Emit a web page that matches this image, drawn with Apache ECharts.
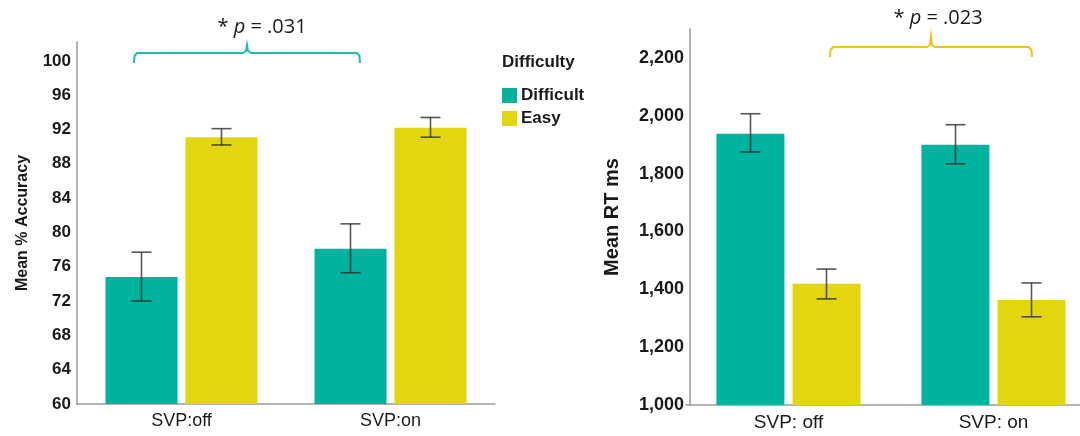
<!DOCTYPE html>
<html>
<head>
<meta charset="utf-8">
<script src="https://cdn.jsdelivr.net/npm/echarts@6/dist/echarts.min.js"></script>
<style>html,body{margin:0;padding:0;background:#fff;overflow:hidden}#c{width:1120px;height:436px}</style>
</head>
<body>
<div id="c"></div>
<script>
// ---- data ----
const accCategories = ['SVP:off', 'SVP:on'];
const accDifficult = [74.8, 78.1];
const accDifficultLow = [72.0, 75.3];
const accDifficultHigh = [77.7, 81.0];
const accEasy = [91.1, 92.2];
const accEasyLow = [90.2, 91.1];
const accEasyHigh = [92.1, 93.4];

const rtCategories = ['SVP: off', 'SVP: on'];
const rtDifficult = [1938, 1900];
const rtDifficultLow = [1875, 1834];
const rtDifficultHigh = [2007, 1969];
const rtEasy = [1419, 1363];
const rtEasyLow = [1367, 1305];
const rtEasyHigh = [1470, 1422];

const legendTitle = 'Difficulty';
const seriesNames = ['Difficult', 'Easy'];
const pLeft = '.031';
const pRight = '.023';

// ---- styles ----
const TEAL = '#00b39f';
const YELLOW = '#e1d60f';
const AXIS = '#9a9a9a';
const TXT = '#1a1a1a';
const FONT = '"Liberation Sans", Arial, sans-serif';

function errSeries(xi, lows, highs, offset) {
  return {
    type: 'custom', xAxisIndex: xi, yAxisIndex: xi, silent: true, z: 10,
    data: lows.map((l, i) => [i, l, highs[i]]),
    encode: { x: 0, y: [1, 2] },
    renderItem(params, api) {
      const lo = api.coord([api.value(0), api.value(1)]);
      const hi = api.coord([api.value(0), api.value(2)]);
      const x = lo[0] + offset, w = 10;
      const st = { stroke: 'rgba(40,40,40,0.78)', lineWidth: 1.6 };
      return { type: 'group', children: [
        { type: 'line', shape: { x1: x, y1: hi[1], x2: x, y2: lo[1] }, style: st },
        { type: 'line', shape: { x1: x - w, y1: hi[1], x2: x + w, y2: hi[1] }, style: st },
        { type: 'line', shape: { x1: x - w, y1: lo[1], x2: x + w, y2: lo[1] }, style: st }
      ]};
    }
  };
}

function bracket(x1, xm, x2, yBase, yLine, yPeak) {
  return [
    [x1, yBase], [x1 + 0.5, yLine + 3], [x1 + 3, yLine],
    [xm - 4, yLine], [xm - 1, yLine - 2], [xm, yPeak], [xm + 1, yLine - 2], [xm + 4, yLine],
    [x2 - 3, yLine], [x2 - 0.5, yLine + 3], [x2, yBase]
  ];
}

const chart = echarts.init(document.getElementById('c'), null, { renderer: 'canvas' });

const yLabelCommon = { color: TXT, fontWeight: 'bold', fontFamily: FONT, margin: 6 };

chart.setOption({
  animation: false,
  backgroundColor: '#fff',
  grid: [
    { left: 77, top: 42, width: 418, bottom: 32, containLabel: false },
    { left: 686, top: 29, width: 410, bottom: 31, containLabel: false }
  ],
  legend: {
    data: seriesNames,
    orient: 'vertical', left: 497, top: 82,
    itemWidth: 15, itemHeight: 15, itemGap: 6, icon: 'rect',
    textStyle: { color: TXT, fontSize: 17, fontWeight: 'bold', fontFamily: FONT, padding: [0,0,0,-1] },
    selectedMode: false
  },
  xAxis: [
    { type: 'category', gridIndex: 0, data: accCategories,
      axisLine: { lineStyle: { color: AXIS, width: 1.5 } }, axisTick: { show: false },
      axisLabel: { color: TXT, fontSize: 18, fontFamily: FONT, margin: 8 } },
    { type: 'category', gridIndex: 1, data: rtCategories,
      axisLine: { lineStyle: { color: AXIS, width: 1.5 } }, axisTick: { show: false },
      axisLabel: { color: TXT, fontSize: 19, fontFamily: FONT, margin: 8 } }
  ],
  yAxis: [
    { type: 'value', gridIndex: 0, min: 60, max: 102.2, interval: 4,
      axisLine: { show: true, lineStyle: { color: AXIS, width: 1.5 } }, axisTick: { show: false },
      splitLine: { show: false },
      axisLabel: Object.assign({ fontSize: 17, showMaxLabel: false, formatter: v => (v % 4 === 0 ? String(v) : '') }, yLabelCommon),
      name: 'Mean % Accuracy', nameLocation: 'middle', nameGap: 46,
      nameTextStyle: { color: TXT, fontSize: 16, fontWeight: 'bold', fontFamily: FONT } },
    { type: 'value', gridIndex: 1, min: 1000, max: 2300, interval: 200, offset: -4,
      axisLine: { show: true, lineStyle: { color: AXIS, width: 1.5 } }, axisTick: { show: false },
      splitLine: { show: false },
      axisLabel: Object.assign({ fontSize: 18, showMaxLabel: false,
        formatter: v => (v % 200 === 0 ? v.toLocaleString('en-US') : '') }, yLabelCommon),
      name: 'Mean RT ms', nameLocation: 'middle', nameGap: 68,
      nameTextStyle: { color: TXT, fontSize: 20, fontWeight: 'bold', fontFamily: FONT } }
  ],
  series: [
    { name: seriesNames[0], type: 'bar', xAxisIndex: 0, yAxisIndex: 0, data: accDifficult,
      barWidth: 72, barGap: '11%', itemStyle: { color: TEAL } },
    { name: seriesNames[1], type: 'bar', xAxisIndex: 0, yAxisIndex: 0, data: accEasy,
      barWidth: 72, barGap: '11%', itemStyle: { color: YELLOW } },
    { name: seriesNames[0], type: 'bar', xAxisIndex: 1, yAxisIndex: 1, data: rtDifficult,
      barWidth: 68, barGap: '12%', itemStyle: { color: TEAL } },
    { name: seriesNames[1], type: 'bar', xAxisIndex: 1, yAxisIndex: 1, data: rtEasy,
      barWidth: 68, barGap: '12%', itemStyle: { color: YELLOW } },
    errSeries(0, accDifficultLow, accDifficultHigh, -40),
    errSeries(0, accEasyLow, accEasyHigh, 40),
    errSeries(1, rtDifficultLow, rtDifficultHigh, -38),
    errSeries(1, rtEasyLow, rtEasyHigh, 38)
  ],
  graphic: [
    { type: 'text', left: 502, top: 54,
      style: { text: legendTitle, fill: TXT, fontSize: 17, fontWeight: 'bold', fontFamily: FONT } },
    { type: 'polyline', shape: { points: bracket(134, 247, 360, 63, 53, 45) },
      style: { stroke: '#1dbfa9', lineWidth: 2, fill: null } },
    { type: 'polyline', shape: { points: bracket(830, 931, 1032, 57, 47, 36) },
      style: { stroke: '#f6bf1c', lineWidth: 2, fill: null } },
    { type: 'text', x: 262, y: 27,
      style: { text: '{a|* }{i|p}{a| = ' + pLeft + '}', align: 'center', verticalAlign: 'middle',
        rich: { a: { fontSize: 20, fill: TXT, fontFamily: 'Open Sans, sans-serif' },
                i: { fontSize: 20, fill: TXT, fontStyle: 'italic', fontFamily: 'Open Sans, sans-serif' } } } },
    { type: 'text', x: 938, y: 18,
      style: { text: '{a|* }{i|p}{a| = ' + pRight + '}', align: 'center', verticalAlign: 'middle',
        rich: { a: { fontSize: 20, fill: TXT, fontFamily: 'Open Sans, sans-serif' },
                i: { fontSize: 20, fill: TXT, fontStyle: 'italic', fontFamily: 'Open Sans, sans-serif' } } } }
  ]
});
</script>
</body>
</html>
